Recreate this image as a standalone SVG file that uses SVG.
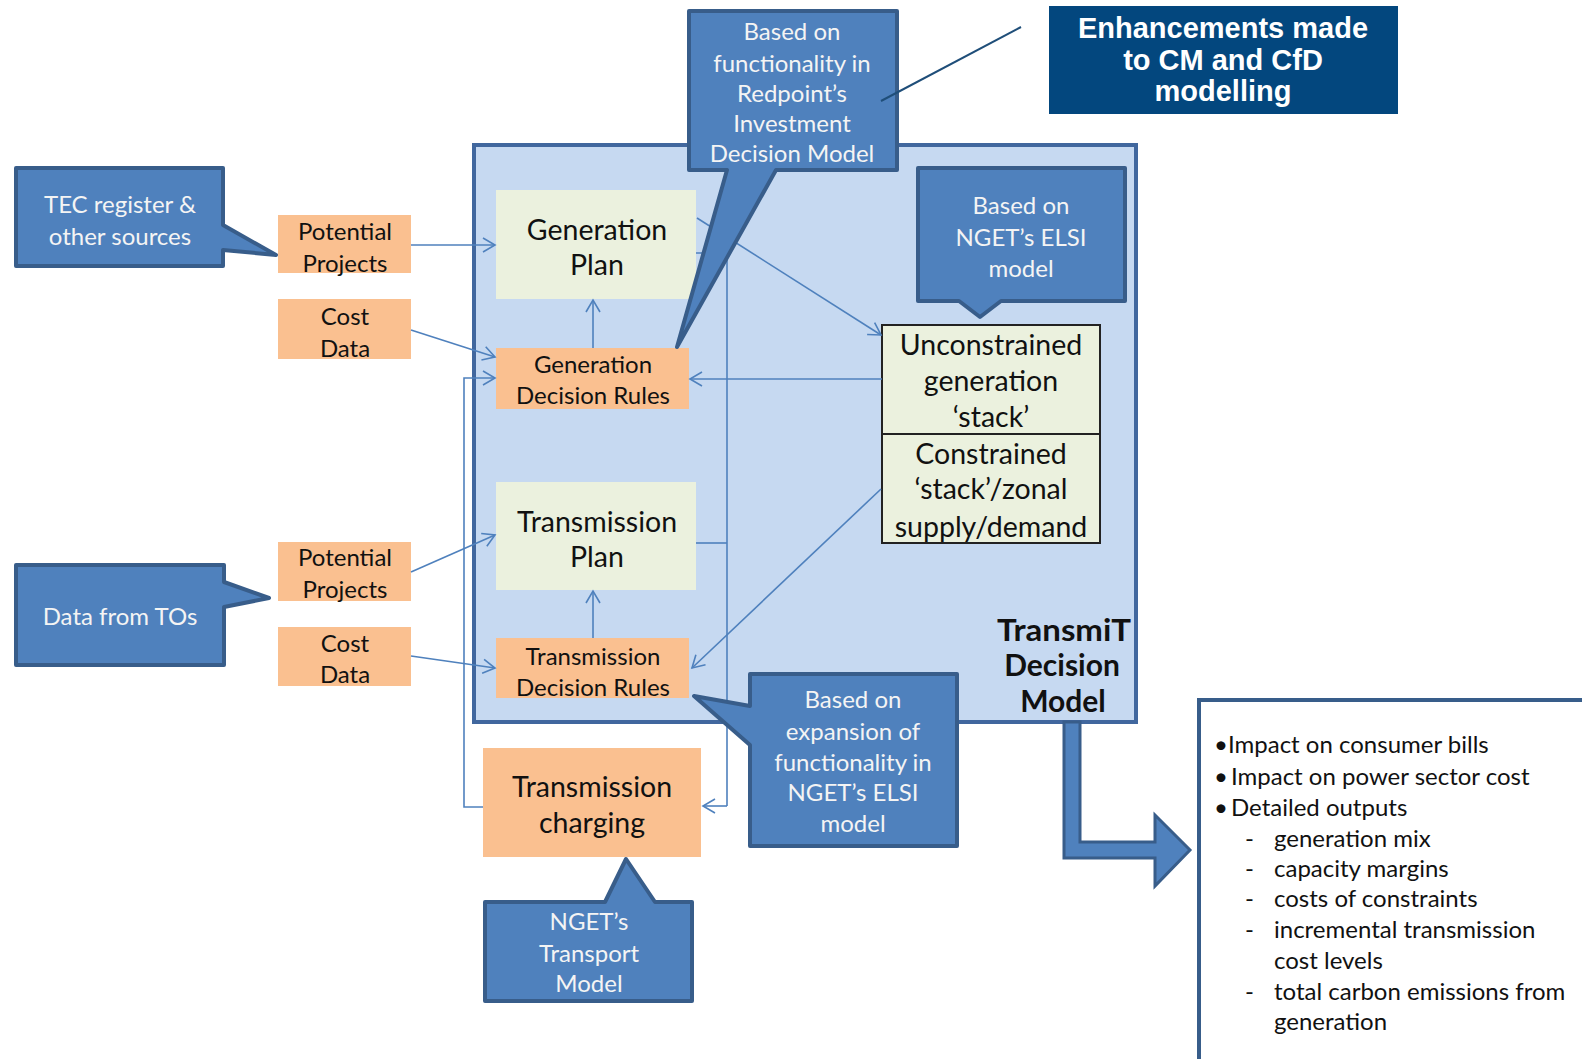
<svg xmlns="http://www.w3.org/2000/svg" width="1582" height="1059" viewBox="0 0 1582 1059">
<defs>
<style>
.t{font-family:Lato,"Open Sans",sans-serif;text-anchor:middle;dominant-baseline:central}
.w{fill:#F4F4F4;font-size:24px}
.k{fill:#111;font-size:24px}
.kl{fill:#111;font-size:28.5px}
.call{fill:#4F81BD;stroke:#385D8A;stroke-width:4;stroke-linejoin:round}
.org{fill:#FAC090}
.grn{fill:#EBF1DE}
.c{fill:none;stroke:#4F81BD;stroke-width:1.6}
.ca{fill:none;stroke:#4F81BD;stroke-width:1.6;marker-end:url(#ah)}
.b{font-family:Lato,"Open Sans",sans-serif;fill:#111;font-size:24px;dominant-baseline:central}
.e{font-family:"Liberation Sans",Arial,sans-serif;font-size:29px;font-weight:bold;fill:#fff;text-anchor:middle;dominant-baseline:central}
</style>
<marker id="ah" markerUnits="userSpaceOnUse" markerWidth="16" markerHeight="16" viewBox="0 0 16 16" refX="14" refY="8" orient="auto">
<path d="M2,1 L14,8 L2,15" fill="none" stroke="#4F81BD" stroke-width="1.6"/>
</marker>
</defs>
<rect width="1582" height="1059" fill="#fff"/>

<g id="transmit-model">
<rect x="474" y="145" width="662" height="577" fill="#C6D9F1" stroke="#41679E" stroke-width="4"/>
<text class="t" x="1064" y="629" font-size="30" font-weight="bold" fill="#111" textLength="134" lengthAdjust="spacingAndGlyphs">TransmiT</text>
<text class="t" x="1062" y="664" font-size="30" font-weight="bold" fill="#111">Decision</text>
<text class="t" x="1063" y="700" font-size="30" font-weight="bold" fill="#111">Model</text>
</g>

<g id="tec-callout">
<path class="call" d="M16,168 H223 V225 L276,255 L223,250 V266 H16 Z"/>
<text class="t w" x="120" y="203">TEC register &amp;</text>
<text class="t w" x="120" y="235">other sources</text>
</g>
<g id="tos-callout">
<path class="call" d="M16,565 H224 V582 L269,598 L224,607 V665 H16 Z"/>
<text class="t w" x="120" y="615">Data from TOs</text>
</g>

<g id="potential-projects-1">
<rect class="org" x="278" y="215" width="133" height="58"/>
<text class="t k" x="345" y="230">Potential</text>
<text class="t k" x="345" y="262">Projects</text>
</g>
<g id="cost-data-1">
<rect class="org" x="278" y="299" width="133" height="60"/>
<text class="t k" x="345" y="315">Cost</text>
<text class="t k" x="345" y="347">Data</text>
</g>
<g id="potential-projects-2">
<rect class="org" x="278" y="542" width="133" height="59"/>
<text class="t k" x="345" y="556">Potential</text>
<text class="t k" x="345" y="588">Projects</text>
</g>
<g id="cost-data-2">
<rect class="org" x="278" y="627" width="133" height="59"/>
<text class="t k" x="345" y="642">Cost</text>
<text class="t k" x="345" y="673">Data</text>
</g>

<g id="generation-plan">
<rect class="grn" x="496" y="190" width="200" height="109"/>
<text class="t kl" x="597" y="229">Generation</text>
<text class="t kl" x="597" y="264">Plan</text>
</g>
<g id="generation-decision-rules">
<rect class="org" x="496" y="348" width="193" height="61"/>
<text class="t k" x="593" y="363">Generation</text>
<text class="t k" x="593" y="394">Decision Rules</text>
</g>
<g id="transmission-plan">
<rect class="grn" x="496" y="482" width="200" height="108"/>
<text class="t kl" x="597" y="521">Transmission</text>
<text class="t kl" x="597" y="556">Plan</text>
</g>
<g id="transmission-decision-rules">
<rect class="org" x="496" y="638" width="193" height="60"/>
<text class="t k" x="593" y="655">Transmission</text>
<text class="t k" x="593" y="686">Decision Rules</text>
</g>
<g id="stack">
<rect class="grn" x="882" y="325" width="218" height="218" stroke="#222" stroke-width="2"/>
<line x1="882" y1="434" x2="1100" y2="434" stroke="#222" stroke-width="2"/>
<text class="t kl" x="991" y="344" font-size="28">Unconstrained</text>
<text class="t kl" x="991" y="380" font-size="28">generation</text>
<text class="t kl" x="991" y="416" font-size="28">‘stack’</text>
<text class="t kl" x="991" y="453" font-size="28">Constrained</text>
<text class="t kl" x="991" y="488" font-size="28">‘stack’/zonal</text>
<text class="t kl" x="991" y="526" font-size="28">supply/demand</text>
</g>
<g id="transmission-charging">
<rect class="org" x="483" y="748" width="218" height="109"/>
<text class="t kl" x="592" y="786">Transmission</text>
<text class="t kl" x="592" y="822">charging</text>
</g>

<g id="connectors">
<line class="ca" x1="411" y1="245" x2="495" y2="245"/>
<line class="ca" x1="411" y1="330" x2="495" y2="357"/>
<path class="ca" d="M483,807 H464 V378 H495"/>
<line class="ca" x1="593" y1="348" x2="593" y2="300"/>
<line class="ca" x1="697" y1="218" x2="881" y2="335"/>
<path class="c" d="M696,253 H727 V806"/>
<line class="c" x1="696" y1="543" x2="727" y2="543"/>
<path class="ca" d="M727,806 H703"/>
<line class="ca" x1="882" y1="379" x2="690" y2="379"/>
<line class="ca" x1="881" y1="489" x2="692" y2="668"/>
<line class="ca" x1="593" y1="638" x2="593" y2="591"/>
<line class="ca" x1="411" y1="572" x2="495" y2="535"/>
<line class="ca" x1="411" y1="656" x2="495" y2="668"/>
<path d="M1064,722 V858 H1155 V886 L1190,850 L1155,815 V842 H1080 V722 Z" fill="#4F81BD" stroke="#385D8A" stroke-width="3" stroke-linejoin="miter"/>
</g>

<g id="redpoint-callout">
<path class="call" d="M689,11 H897 V170 H776 L677,347 L727,170 H689 Z"/>
<text class="t w" x="792" y="30">Based on</text>
<text class="t w" x="792" y="62">functionality in</text>
<text class="t w" x="792" y="92">Redpoint’s</text>
<text class="t w" x="792" y="122">Investment</text>
<text class="t w" x="792" y="152">Decision Model</text>
</g>
<g id="elsi-callout">
<path class="call" d="M918,168 H1125 V301 H1001 L980,317 L959,301 H918 Z"/>
<text class="t w" x="1021" y="204">Based on</text>
<text class="t w" x="1021" y="236">NGET’s ELSI</text>
<text class="t w" x="1021" y="267">model</text>
</g>
<g id="elsi-expansion-callout">
<path class="call" d="M750,674 H957 V846 H750 V745 L694,696 L750,706 Z"/>
<text class="t w" x="853" y="698">Based on</text>
<text class="t w" x="853" y="730">expansion of</text>
<text class="t w" x="853" y="761">functionality in</text>
<text class="t w" x="853" y="791">NGET’s ELSI</text>
<text class="t w" x="853" y="822">model</text>
</g>
<g id="transport-callout">
<path class="call" d="M485,902 H605 L626,859 L655,902 H692 V1001 H485 Z"/>
<text class="t w" x="589" y="920">NGET’s</text>
<text class="t w" x="589" y="952">Transport</text>
<text class="t w" x="589" y="982">Model</text>
</g>

<g id="enhancements">
<rect x="1049" y="6" width="349" height="108" fill="#03477E"/>
<text class="e" x="1223" y="28">Enhancements made</text>
<text class="e" x="1223" y="60">to CM and CfD</text>
<text class="e" x="1223" y="91">modelling</text>
</g>
<g id="enhancements-pointer">
<line x1="1021" y1="27" x2="881" y2="101" stroke="#1F4E79" stroke-width="2"/>
</g>

<g id="outputs">
<rect x="1199" y="700" width="420" height="420" fill="#fff" stroke="#385D8A" stroke-width="4"/>
<text class="b" x="1214" y="743">•</text><text class="b" x="1228" y="743">Impact on consumer bills</text>
<text class="b" x="1214" y="775">•</text><text class="b" x="1231" y="775">Impact on power sector cost</text>
<text class="b" x="1214" y="806">•</text><text class="b" x="1231" y="806">Detailed outputs</text>
<text class="b" x="1245" y="837">-</text><text class="b" x="1274" y="837">generation mix</text>
<text class="b" x="1245" y="867">-</text><text class="b" x="1274" y="867">capacity margins</text>
<text class="b" x="1245" y="897">-</text><text class="b" x="1274" y="897">costs of constraints</text>
<text class="b" x="1245" y="928">-</text><text class="b" x="1274" y="928">incremental transmission</text>
<text class="b" x="1274" y="959">cost levels</text>
<text class="b" x="1245" y="990">-</text><text class="b" x="1274" y="990">total carbon emissions from</text>
<text class="b" x="1274" y="1020">generation</text>
</g>
</svg>
